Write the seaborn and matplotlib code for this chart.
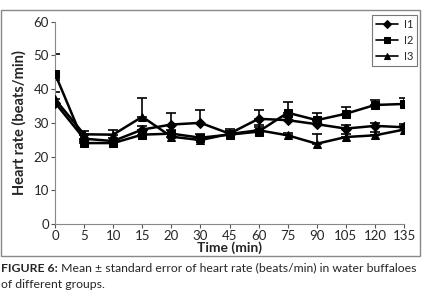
import numpy as np
import pandas as pd
import seaborn as sns
import matplotlib.pyplot as plt
from matplotlib.patches import Rectangle

# data
times = ['0', '5', '10', '15', '20', '30', '45', '60', '75', '90', '105', '120', '135']
i1_mean = [36.0, 25.3, 24.6, 28.0, 29.5, 30.0, 26.8, 31.2, 30.8, 29.6, 28.3, 29.1, 28.7]
i2_mean = [44.6, 24.0, 24.0, 26.5, 26.8, 25.6, 26.5, 27.4, 33.0, 30.8, 32.7, 35.3, 35.6]
i3_mean = [37.0, 26.6, 26.5, 31.8, 25.9, 24.9, 26.7, 27.8, 26.3, 23.8, 25.8, 26.3, 28.0]
i1_err = [3.1, 1.0, 0.8, 1.0, 3.5, 3.8, 1.5, 2.7, 1.0, 1.0, 1.2, 0.8, 1.1]
i2_err = [5.8, 0.6, 0.6, 1.0, 1.2, 1.2, 1.0, 1.5, 3.3, 2.0, 2.0, 1.4, 1.9]
i3_err = [5.8, 1.0, 1.5, 5.6, 1.0, 0.8, 1.0, 1.5, 0.8, 2.8, 1.0, 1.0, 1.2]
groups = ['I1', 'I2', 'I3']

sns.set_theme(style='ticks')
plt.rcParams['font.family'] = ['Lato', 'DejaVu Sans']

rows = []
for g, m in zip(groups, [i1_mean, i2_mean, i3_mean]):
    for k, t in enumerate(times):
        rows.append({'pos': k, 'hr': m[k], 'group': g})
df = pd.DataFrame(rows)

fig = plt.figure(figsize=(4.22, 2.94), dpi=100)
ax = fig.add_axes([55 / 422, 1 - 224 / 294, (404 - 55) / 422, (224 - 21.7) / 294])

# upper-only error bars with caps
for m, e in zip([i1_mean, i2_mean, i3_mean], [i1_err, i2_err, i3_err]):
    ax.errorbar(range(len(times)), m, yerr=[np.zeros(len(e)), e], fmt='none',
                ecolor='black', elinewidth=1.2, capsize=3.5, capthick=1.2, zorder=2)

sns.lineplot(data=df, x='pos', y='hr', style='group', markers={'I1': 'D', 'I2': 's', 'I3': '^'},
             dashes=False, color='black', linewidth=1.8, markersize=5.5, markeredgecolor='black',
             ax=ax, zorder=3)

ax.set_xlim(0, 12)
ax.set_ylim(0, 60)
ax.set_xticks(range(len(times)))
ax.set_xticklabels(times)
ax.set_yticks(range(0, 61, 10))
ax.tick_params(labelsize=9.5, length=3, width=0.8, color='#555555', pad=1.5)
for s in ['top', 'right']:
    ax.spines[s].set_visible(False)
for s in ['left', 'bottom']:
    ax.spines[s].set_color('#888888')
    ax.spines[s].set_linewidth(0.8)
ax.set_xlabel('Time (min)', fontsize=10, fontweight='bold', labelpad=-0.5)
ax.set_ylabel('Heart rate (beats/min)', fontsize=10.5, fontweight='bold', labelpad=5)

leg = ax.legend(loc='upper right', bbox_to_anchor=(417 / 422, 1 - 15 / 294), bbox_transform=fig.transFigure,
                fontsize=8, frameon=True, fancybox=False, handlelength=2.0, handletextpad=0.5,
                borderpad=0.35, labelspacing=0.45, borderaxespad=0, markerscale=0.75)
leg.get_frame().set_edgecolor('#555555')
leg.get_frame().set_linewidth(0.8)
for h in leg.legend_handles:
    h.set_linewidth(1.2)

# outer border around the chart
fig.patches.append(Rectangle((1 / 422, 1 - 256 / 294), 419 / 422, 246 / 294, transform=fig.transFigure,
                             fill=False, edgecolor='#888888', linewidth=1))

# caption with bold label
cap_size = 8.8
cap1 = fig.text(0.002, 1 - 268 / 294, 'FIGURE 6:', fontsize=cap_size, fontweight='bold', va='center')
r = fig.canvas.get_renderer()
w = cap1.get_window_extent(r).width / fig.bbox.width
fig.text(0.002 + w, 1 - 268 / 294, ' Mean \u00b1 standard error of heart rate (beats/min) in water buffaloes',
         fontsize=cap_size, va='center')
fig.text(0.002, 1 - 284 / 294, 'of different groups.', fontsize=cap_size, va='center')

plt.savefig('out.png', dpi=100)
